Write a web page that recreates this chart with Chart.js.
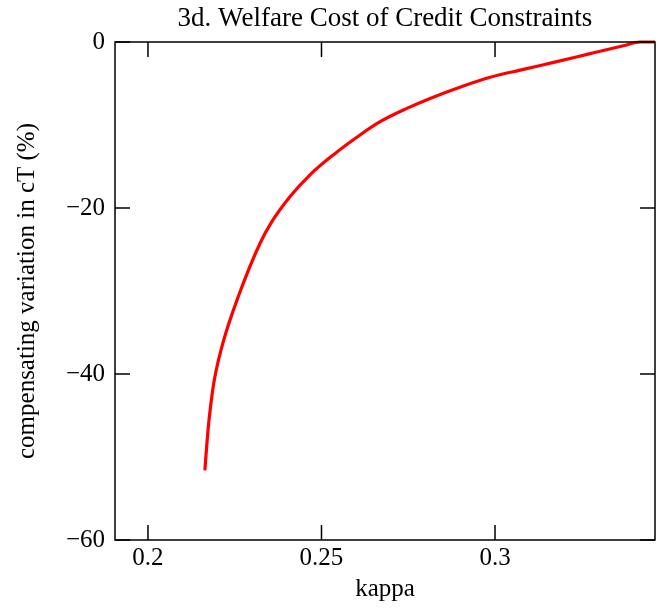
<!DOCTYPE html>
<html>
<head>
<meta charset="utf-8">
<script src="https://cdn.jsdelivr.net/npm/chart.js@4/dist/chart.umd.min.js"></script>
<style>
  html, body { margin: 0; padding: 0; background: #fff; }
  #wrap { width: 665px; height: 610px; }
</style>
</head>
<body>
<div id="wrap"><canvas id="c" width="665" height="610"></canvas></div>
<script>
// 값은 그림에서 읽은 추정치
const kappa = [0.2164, 0.2169, 0.2176, 0.2184, 0.2193, 0.2217, 0.2260, 0.2323, 0.2357, 0.2409,
  0.2467, 0.2534, 0.2611, 0.2669, 0.2746, 0.2813, 0.2909, 0.2986, 0.3082, 0.3178,
  0.3274, 0.3370, 0.3418, 0.3461]
const welfare = [-51.6, -48.8, -45.5, -42.7, -40.3, -36.1, -30.7, -24.25, -21.65, -18.64,
  -16.0, -13.6, -11.2, -9.6, -8.0, -6.8, -5.3, -4.25, -3.3, -2.37,
  -1.4, -0.45, 0, 0]
const xTicks = [0.2, 0.25, 0.3]
const yTicks = [0, -20, -40, -60]

const FONT = 'Liberation Serif'

// 네 변에 안쪽으로 향하는 눈금 + 테두리
const framePlugin = {
  id: 'frame',
  afterDraw(chart) {
    const { ctx, chartArea: a, scales } = chart
    const len = 15
    ctx.save()
    ctx.strokeStyle = '#000'
    ctx.lineWidth = 1.5
    ctx.strokeRect(a.left, a.top, a.right - a.left, a.bottom - a.top)
    ctx.beginPath()
    xTicks.forEach(v => {
      const x = scales.x.getPixelForValue(v)
      ctx.moveTo(x, a.bottom); ctx.lineTo(x, a.bottom - len)
      ctx.moveTo(x, a.top); ctx.lineTo(x, a.top + len)
    })
    yTicks.forEach(v => {
      const y = scales.y.getPixelForValue(v)
      ctx.moveTo(a.left, y); ctx.lineTo(a.left + len, y)
      ctx.moveTo(a.right, y); ctx.lineTo(a.right - len, y)
    })
    ctx.stroke()
    ctx.restore()
  }
}

new Chart(document.getElementById('c'), {
  type: 'line',
  data: {
    datasets: [{
      data: kappa.map((k, i) => ({ x: k, y: welfare[i] })),
      borderColor: '#ff0000',
      borderWidth: 3.2,
      pointRadius: 0,
      cubicInterpolationMode: 'monotone',
      clip: 4,
    }]
  },
  options: {
    responsive: false,
    animation: false,
    layout: { padding: { left: 0, right: 10, top: 0, bottom: 6 } },
    plugins: {
      legend: { display: false },
      tooltip: { enabled: false },
      title: {
        display: true,
        text: '3d. Welfare Cost of Credit Constraints',
        fullSize: false,
        color: '#000',
        font: { family: FONT, size: 27, weight: 'normal', lineHeight: 1.2 },
        padding: { top: 3, bottom: 6.6 },
      }
    },
    scales: {
      x: {
        type: 'linear',
        min: 0.1905,
        max: 0.3461,
        grid: { display: false, drawTicks: false },
        border: { display: false },
        afterBuildTicks: s => { s.ticks = xTicks.map(v => ({ value: v })) },
        afterFit: s => { s.height = 64 },
        ticks: {
          color: '#000',
          font: { family: FONT, size: 25 },
          padding: 3,
          maxRotation: 0,
          callback: v => String(v),
        },
        title: {
          display: true,
          text: 'kappa',
          color: '#000',
          font: { family: FONT, size: 25 },
          padding: { top: 0, bottom: 0 },
        }
      },
      y: {
        min: -60,
        max: 0,
        grid: { display: false, drawTicks: false },
        border: { display: false },
        afterBuildTicks: s => { s.ticks = yTicks.map(v => ({ value: v })) },
        afterFit: s => { s.width = 115 },
        ticks: {
          color: '#000',
          font: { family: FONT, size: 25 },
          padding: 10,
          callback: v => v < 0 ? '\u2212' + Math.abs(v) : String(v),
        },
        title: {
          display: true,
          text: 'compensating variation in cT (%)',
          color: '#000',
          font: { family: FONT, size: 25 },
          padding: { top: 12, bottom: 0 },
        }
      }
    }
  },
  plugins: [framePlugin]
})
</script>
</body>
</html>
